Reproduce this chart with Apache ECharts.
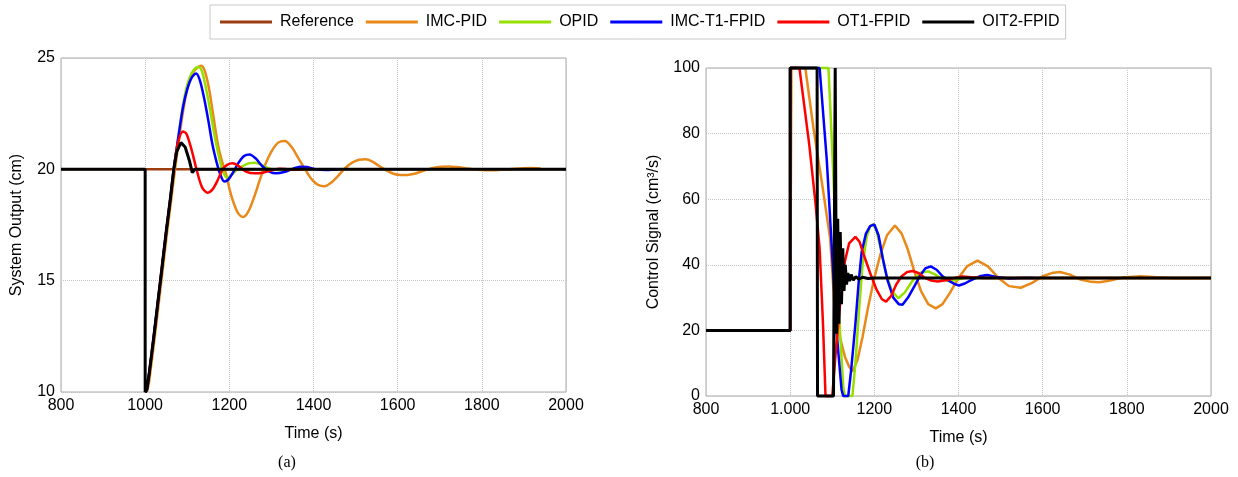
<!DOCTYPE html>
<html>
<head>
<meta charset="utf-8">
<script src="https://cdn.jsdelivr.net/npm/echarts@6/dist/echarts.min.js"></script>
<style>
  html, body { margin: 0; padding: 0; background: #fff; }
  #main { width: 1238px; height: 477px; }
</style>
</head>
<body>
<div id="main"></div>
<script>
// ---- data, [time (s), value] ----
var seriesNames = ['Reference', 'IMC-PID', 'OPID', 'IMC-T1-FPID', 'OT1-FPID', 'OIT2-FPID'];
var seriesColors = ['#9c3d10', '#e8891a', '#95e000', '#0000ff', '#ff0000', '#000000'];

// x tick labels
var xTicksA = ['800', '1000', '1200', '1400', '1600', '1800', '2000'];
var xTicksB = ['800', '1.000', '1200', '1400', '1600', '1800', '2000'];

// (a) system output (cm)
var outReference = [[800, 20], [2000, 20]];
var outImcPid = [[1003, 10], [1008, 10.3], [1013, 11], [1023, 12.5], [1033, 14.1], [1043, 15.7], [1053, 17.3], [1063, 18.8],
  [1071, 20], [1080, 21.3], [1090, 22.6], [1100, 23.6], [1110, 24.2], [1120, 24.5], [1133, 24.65], [1142, 24.4],
  [1152, 23.6], [1162, 22.4], [1172, 21.2], [1182, 20.4], [1192, 19.8], [1202, 19], [1212, 18.4], [1222, 18],
  [1233, 17.86], [1245, 18.1], [1258, 18.7], [1272, 19.5], [1285, 20.2], [1300, 20.8], [1316, 21.2], [1332, 21.27],
  [1348, 21], [1364, 20.5], [1380, 20], [1396, 19.55], [1411, 19.3], [1426, 19.24], [1442, 19.4], [1458, 19.7],
  [1475, 20.05], [1492, 20.3], [1508, 20.43], [1524, 20.45], [1540, 20.35], [1556, 20.15], [1573, 19.95], [1590, 19.8],
  [1607, 19.75], [1623, 19.75], [1640, 19.8], [1656, 19.9], [1672, 20], [1690, 20.08], [1705, 20.12], [1721, 20.13],
  [1740, 20.1], [1760, 20.05], [1780, 20], [1800, 19.97], [1820, 19.96], [1840, 19.97], [1860, 20], [1890, 20.04],
  [1915, 20.06], [1940, 20.04]];
var outOpid = [[1000, 10], [1004, 10.1], [1010, 10.9], [1020, 12.4], [1030, 14], [1040, 15.6], [1050, 17.2], [1060, 18.7],
  [1068, 20], [1080, 21.6], [1090, 22.9], [1100, 23.8], [1110, 24.3], [1120, 24.55], [1127, 24.6], [1135, 24.4],
  [1145, 23.6], [1155, 22.6], [1165, 21.5], [1175, 20.6], [1185, 19.9], [1195, 19.62], [1205, 19.75], [1218, 19.98],
  [1232, 20.15], [1248, 20.28], [1262, 20.3], [1278, 20.18], [1295, 20.03], [1315, 19.97], [1340, 20], [1400, 20]];
var outImcT1 = [[1000, 10], [1004, 10.1], [1010, 10.9], [1020, 12.4], [1030, 14], [1040, 15.6], [1050, 17.2], [1060, 18.7],
  [1068, 20], [1080, 21.6], [1090, 22.8], [1100, 23.6], [1110, 24.1], [1121, 24.3], [1130, 24], [1140, 23.2],
  [1150, 22.2], [1160, 21.1], [1170, 20.3], [1178, 19.8], [1188, 19.45], [1198, 19.55], [1210, 19.9], [1222, 20.3],
  [1235, 20.6], [1248, 20.67], [1262, 20.5], [1278, 20.15], [1295, 19.9], [1312, 19.82], [1330, 19.88], [1350, 20.02],
  [1368, 20.12], [1385, 20.1], [1405, 20], [1430, 19.97], [1460, 20]];
var outOt1 = [[1000, 10], [1004, 10.1], [1010, 10.9], [1020, 12.4], [1030, 14], [1040, 15.6], [1050, 17.2], [1060, 18.7],
  [1068, 20], [1078, 21.2], [1090, 21.7], [1098, 21.6], [1110, 20.9], [1122, 20], [1135, 19.2], [1148, 18.95],
  [1160, 19.1], [1172, 19.5], [1184, 20], [1195, 20.2], [1208, 20.27], [1222, 20.15], [1240, 19.9], [1260, 19.82],
  [1280, 19.85], [1300, 19.95], [1320, 20.03], [1340, 20], [1360, 19.98], [1380, 20.02], [1400, 20]];
var outOit2 = [[800, 20], [1000, 20], [1000, 10], [1004, 10.1], [1010, 10.9], [1020, 12.4], [1030, 14], [1040, 15.6],
  [1050, 17.2], [1060, 18.7], [1068, 20], [1075, 20.8], [1085, 21.2], [1095, 21], [1105, 20.4], [1112, 19.85],
  [1118, 20], [2000, 20]];

// (b) control signal (cm3/s)
var ctrlImcPid = [[800, 20], [1000, 20], [1003, 100], [1036, 100], [1055, 82], [1079, 62], [1095, 48], [1105, 28],
  [1118, 18], [1130, 12], [1140, 9], [1148, 7.5], [1160, 11], [1172, 18], [1185, 27], [1200, 36], [1214, 43],
  [1230, 49], [1249, 52], [1265, 49.5], [1280, 44.5], [1295, 38], [1311, 32], [1328, 28], [1346, 26.7], [1362, 28],
  [1380, 31.5], [1400, 36], [1420, 39.5], [1445, 41.3], [1470, 39.5], [1495, 36], [1520, 33.5], [1548, 33],
  [1575, 34.5], [1600, 36.5], [1625, 37.6], [1641, 37.8], [1665, 37], [1690, 35.5], [1715, 34.8], [1735, 34.7],
  [1760, 35.2], [1790, 36.1], [1833, 36.5], [1870, 36.2], [1910, 35.9], [1950, 35.9], [2000, 36]];
var ctrlOpid = [[800, 20], [1000, 20], [1000, 100], [1091, 100], [1100, 75], [1108, 50], [1116, 25], [1126, 3],
  [1130, 0], [1148, 0], [1155, 10], [1163, 25], [1172, 40], [1182, 48.5], [1190, 51.8], [1197, 52.3], [1205, 50.5],
  [1215, 45], [1228, 37], [1242, 32], [1257, 29.8], [1272, 31.5], [1290, 35], [1310, 37.6], [1328, 38], [1345, 37],
  [1362, 35.5], [1380, 35], [1400, 35.6], [1420, 36.1], [1450, 36], [2000, 36]];
var ctrlImcT1 = [[800, 20], [1000, 20], [1000, 100], [1070, 100], [1087, 72], [1099, 45], [1110, 20], [1122, 2],
  [1126, 0], [1138, 0], [1145, 8], [1155, 22], [1163, 35], [1170, 44], [1180, 49.5], [1190, 51.8], [1200, 52.3],
  [1210, 49], [1220, 42], [1232, 35], [1245, 30], [1258, 28], [1267, 27.8], [1280, 30], [1295, 33.4], [1310, 37],
  [1322, 39], [1334, 39.5], [1348, 38.5], [1362, 36.5], [1375, 35.3], [1390, 34.2], [1401, 33.7], [1415, 34.3],
  [1430, 35.3], [1450, 36.5], [1468, 36.9], [1490, 36.3], [1520, 35.8], [1550, 36], [1580, 36]];
var ctrlOt1 = [[800, 20], [1000, 20], [1000, 100], [1022, 100], [1045, 77], [1060, 59], [1070, 45], [1078, 22],
  [1084, 0], [1100, 0], [1110, 16], [1120, 30], [1130, 41], [1140, 46.5], [1155, 48.5], [1165, 47], [1175, 43],
  [1190, 37.5], [1205, 32.5], [1218, 29.5], [1228, 28.8], [1240, 30.5], [1252, 34], [1265, 36.5], [1278, 37.8],
  [1291, 38.1], [1305, 37.5], [1320, 36], [1335, 35.2], [1350, 34.9], [1370, 35.3], [1390, 36], [1410, 36.4],
  [1430, 36.2], [1460, 36], [2000, 36]];
var ctrlOit2 = [[800, 20], [1000, 20], [1000, 100], [1064, 100], [1065, 0], [1103, 0], [1107, 100], [1110, 19],
  [1113, 54], [1116, 22], [1119, 50], [1122, 28], [1125, 45], [1128, 32], [1131, 40], [1134, 34], [1137, 37.5],
  [1141, 35], [1145, 37], [1150, 35.3], [1156, 36.4], [1163, 35.6], [1172, 36.2], [1185, 35.8], [1200, 36], [2000, 36]];

var outSeries = [outReference, outImcPid, outOpid, outImcT1, outOt1, outOit2];
var ctrlSeries = [null, ctrlImcPid, ctrlOpid, ctrlImcT1, ctrlOt1, ctrlOit2];

var FONT = '"Liberation Sans", Arial, sans-serif';
var chart = echarts.init(document.getElementById('main'));

function xAxisFor(idx, labels) {
  return {
    type: 'value', gridIndex: idx, min: 800, max: 2000, interval: 200,
    name: 'Time (s)', nameLocation: 'middle', nameGap: 34,
    nameTextStyle: { fontFamily: FONT, fontSize: 16, color: '#000' },
    axisLine: { show: false }, axisTick: { show: false },
    axisLabel: {
      fontFamily: FONT, fontSize: 16, color: '#000', margin: 6,
      formatter: function (v) { return labels[Math.round((v - 800) / 200)]; }
    },
    splitLine: { show: true, lineStyle: { color: '#c4c4c4', type: [1, 1], width: 1 } }
  };
}
function yAxisFor(idx, min, max, interval, name, gap) {
  return {
    type: 'value', gridIndex: idx, min: min, max: max, interval: interval,
    name: name, nameLocation: 'middle', nameGap: gap, nameRotate: 90,
    nameTextStyle: { fontFamily: FONT, fontSize: 16, color: '#000' },
    axisLine: { show: false }, axisTick: { show: false },
    axisLabel: { fontFamily: FONT, fontSize: 16, color: '#000', margin: 6 },
    splitLine: { show: true, lineStyle: { color: '#c4c4c4', type: [1, 1], width: 1 } }
  };
}

var series = [];
seriesNames.forEach(function (name, i) {
  series.push({
    name: name, type: 'line', xAxisIndex: 0, yAxisIndex: 0,
    data: outSeries[i], showSymbol: false, clip: false,
    smooth: (i >= 1 && i <= 4) ? 0.3 : false,
    lineStyle: { color: seriesColors[i], width: i === 5 ? 3 : 2.5 },
    itemStyle: { color: seriesColors[i] }
  });
});
seriesNames.forEach(function (name, i) {
  if (!ctrlSeries[i]) return;
  series.push({
    name: name, type: 'line', xAxisIndex: 1, yAxisIndex: 1,
    data: ctrlSeries[i], showSymbol: false, clip: false,
    lineStyle: { color: seriesColors[i], width: i === 5 ? 3 : 2.5 },
    itemStyle: { color: seriesColors[i] }
  });
});

chart.setOption({
  animation: false,
  backgroundColor: '#fff',
  legend: {
    data: seriesNames, left: 210, top: 5,
    padding: [9, 6, 9, 10], itemGap: 12, itemWidth: 52, itemHeight: 3,
    icon: 'rect', borderColor: '#c8c8c8', borderWidth: 1,
    textStyle: { fontFamily: FONT, fontSize: 16, color: '#000', padding: [0, 0, 0, 3] }
  },
  grid: [
    { left: 61, right: 672, top: 58, bottom: 85, show: true, borderColor: '#a8a8a8', borderWidth: 1 },
    { left: 706, right: 27, top: 68, bottom: 81, show: true, borderColor: '#a8a8a8', borderWidth: 1 }
  ],
  xAxis: [xAxisFor(0, xTicksA), xAxisFor(1, xTicksB)],
  yAxis: [
    yAxisFor(0, 10, 25, 5, 'System Output (cm)', 36),
    yAxisFor(1, 0, 100, 20, 'Control Signal (cm\u00b3/s)', 44)
  ],
  graphic: [
    { type: 'text', x: 287, y: 463, style: { text: '(a)', font: '16px "Liberation Serif", serif', fill: '#000', textAlign: 'center', textVerticalAlign: 'middle' } },
    { type: 'text', x: 925, y: 463, style: { text: '(b)', font: '16px "Liberation Serif", serif', fill: '#000', textAlign: 'center', textVerticalAlign: 'middle' } }
  ],
  series: series
});
</script>
</body>
</html>
